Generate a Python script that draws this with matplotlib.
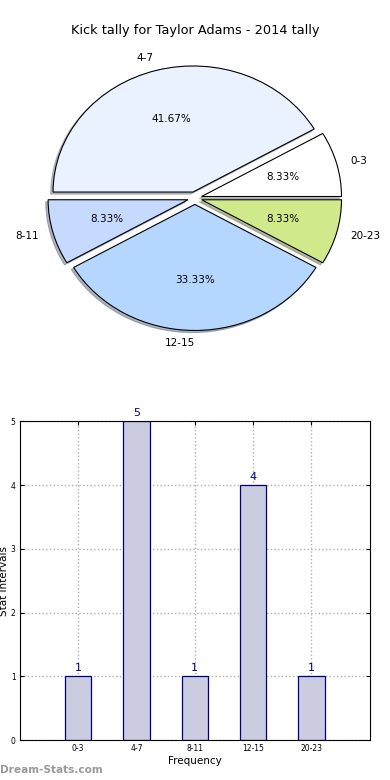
import numpy as np
import matplotlib.pyplot as plt

# data
labels = ['0-3', '4-7', '8-11', '12-15', '20-23']
counts = [1, 5, 1, 4, 1]
colors = ['#ffffff', '#eaf1ff', '#c6d9ff', '#b5d6ff', '#d0ea8b']
explode = [0.05, 0.05, 0.05, 0.05, 0.05]
yticks = [0, 1, 2, 3, 4, 5]

fig = plt.figure(figsize=(3.9, 7.8), dpi=100)

# pie on top
ax1 = fig.add_axes([0.051, 0.544, 0.897, 0.404])
wedges, texts, autotexts = ax1.pie(counts, labels=labels, colors=colors, explode=explode,
                                   autopct='%1.2f%%', startangle=0,
                                   shadow={'ox': -0.012, 'oy': -0.012, 'shade': 0.5},
                                   wedgeprops={'edgecolor': 'black', 'linewidth': 0.8},
                                   textprops={'fontsize': 7.5})
# old style alignment: left if x >= 0 else right
for t in texts:
    tx, ty = t.get_position()
    t.set_ha('left' if tx > 1e-6 else 'right')
ax1.set_aspect('auto')
ax1.set_xlim(-1.25, 1.25)
ax1.set_ylim(-1.25, 1.25)
fig.text(0.5, 0.961, 'Kick tally for Taylor Adams - 2014 tally', ha='center', va='center', fontsize=9.3)

# bars below
ax2 = fig.add_axes([0.051, 0.051, 0.897, 0.409])
x = np.arange(len(labels))
bars = ax2.bar(x, counts, width=0.45, color='#ccccE1', edgecolor='#000080', linewidth=0.9, zorder=2)
for b, v in zip(bars, counts):
    ax2.text(b.get_x() + b.get_width() / 2, v + 0.05, str(v), ha='center', va='bottom',
             color='#000080', fontsize=8)
ax2.set_xlim(-1, 5)
ax2.set_ylim(0, 5)
ax2.set_xticks(x)
ax2.set_xticklabels(labels)
ax2.set_yticks(yticks)
ax2.tick_params(labelsize=5.5, direction='in', top=True, right=True, length=3, pad=3)
ax2.grid(True, linestyle=':', color='#b0b0b0', linewidth=1.0, zorder=0)
ax2.set_axisbelow(True)
ax2.set_xlabel('Frequency', fontsize=7.5, labelpad=2)
ax2.set_ylabel('Stat Intervals', fontsize=7.5, labelpad=2)
ax2.yaxis.set_label_coords(-0.03, 0.5)

fig.text(0.0, 0.013, 'Dream-Stats.com', color='#999999', fontsize=7.6, fontweight='bold', ha='left', va='center')

fig.savefig('out.png', dpi=100)
